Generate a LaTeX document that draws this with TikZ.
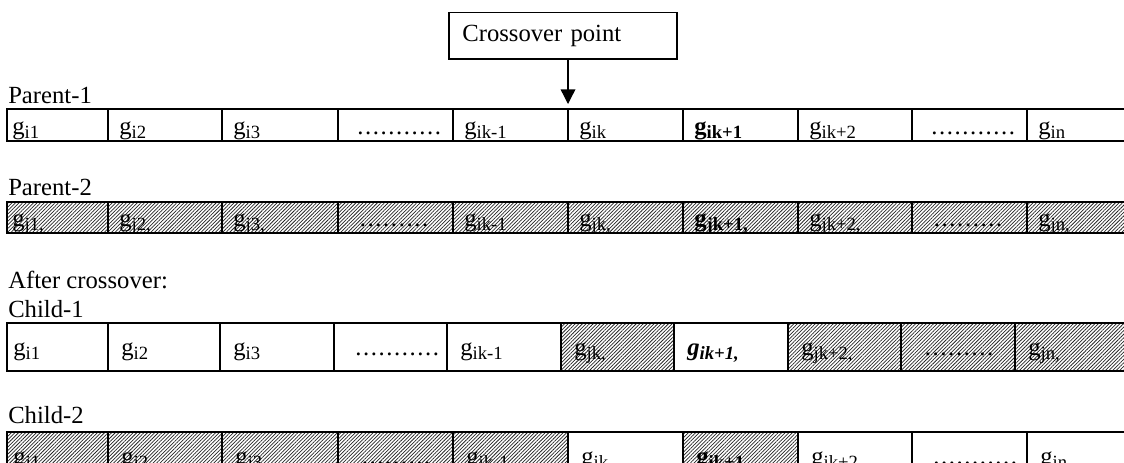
\documentclass[tikz,border=0pt]{standalone}
\usepackage{fontspec}
\setmainfont{Liberation Serif}
\usetikzlibrary{arrows.meta, patterns.meta}

\newcommand{\gs}[1]{g\raisebox{-3pt}{\fontsize{14}{14}\selectfont #1}}
\newcommand{\dt}{.\kern1.2pt}
\newcommand{\gdots}{\kern6pt\dt\dt\dt\dt\dt\dt\dt\dt\dt\dt\dt}
\newcommand{\sdots}{\kern8pt\dt\dt\dt\dt\dt\dt\dt\dt\dt}

\tikzset{
  rowname/.style={anchor=base west, inner sep=0pt, font=\fontsize{18.5}{22}\selectfont},
  gene/.style={anchor=base west, inner sep=0pt, font=\fontsize{18.5}{22}\selectfont},
  plain/.style={draw, line width=1.5pt},
  hatched/.style={draw, line width=1.5pt, pattern={Lines[angle=45, distance=1.9pt, line width=0.55pt]}, pattern color=black!85},
}

\begin{document}
\begin{tikzpicture}[x=0.75pt, y=-0.75pt]
\useasboundingbox (0,0) rectangle (1124,462);
\clip (0,0) rectangle (1124,462);

% crossover point
\node[draw, line width=1pt, minimum width=171pt, minimum height=35pt, text width=151pt, inner xsep=10pt, align=left,
  font=\fontsize{18.5}{22}\selectfont] (cp) at (563,35.5) {Crossover point};
\coordinate (cut) at (568,104);
\draw[line width=1pt, -{Triangle[length=11pt, width=11pt]}] (cp.south -| cut) -- (cut);

% row names
\node[rowname] (p1) at (8,103) {Parent-1};
\node[rowname] (p2) at (8,195) {Parent-2};
\node[rowname] (after) at (8,288) {After crossover:};
\node[rowname] (c1) at (8,317) {Child-1};
\node[rowname] (c2) at (8,423) {Child-2};

% Parent-1
\foreach \xl/\xr/\sh/\txt [count=\i] in {7/108/plain/{\gs{i1}}, 108/222/plain/{\gs{i2}}, 222/338/plain/{\gs{i3}},
    338/453/plain/{\gdots}, 453/568/plain/{\gs{ik-1}}, 568/683/plain/{\gs{ik}}, 683/798/plain/{\textbf{\gs{ik+1}}},
    798/912/plain/{\gs{ik+2}}, 912/1027/plain/{\gdots}, 1027/1134/plain/{\gs{in}}}
  {\path[\sh] (\xl,109) rectangle (\xr,141);
   \pgfmathsetmacro\tx{\i==1 ? \xl+5 : \xl+11}
   \node[gene] (pa-\i) at (\tx,134) {\txt};}

% Parent-2
\foreach \xl/\xr/\sh/\txt [count=\i] in {7/108/hatched/{\gs{j1,}}, 108/222/hatched/{\gs{j2,}}, 222/338/hatched/{\gs{j3,}},
    338/453/hatched/{\sdots}, 453/568/hatched/{\gs{ik-1}}, 568/683/hatched/{\gs{jk,}}, 683/798/hatched/{\textbf{\gs{jk+1,}}},
    798/912/hatched/{\gs{jk+2,}}, 912/1027/hatched/{\sdots}, 1027/1134/hatched/{\gs{jn,}}}
  {\path[\sh] (\xl,202) rectangle (\xr,233);
   \pgfmathsetmacro\tx{\i==1 ? \xl+5 : \xl+11}
   \node[gene] (pb-\i) at (\tx,226) {\txt};}

% Child-1
\foreach \xl/\xr/\sh/\txt [count=\i] in {7/108/plain/{\gs{i1}}, 108/220/plain/{\gs{i2}}, 220/334/plain/{\gs{i3}},
    334/447/plain/{\gdots}, 447/561/plain/{\gs{ik-1}}, 561/674/hatched/{\gs{jk,}}, 674/788/plain/{\textbf{\textit{\gs{ik+1,}}}},
    788/901/hatched/{\gs{jk+2,}}, 901/1015/hatched/{\sdots}, 1015/1134/hatched/{\gs{jn,}}}
  {\path[\sh] (\xl,323) rectangle (\xr,371);
   \pgfmathsetmacro\tx{\i==1 ? \xl+6 : \xl+13}
   \node[gene] (ca-\i) at (\tx,355) {\txt};}

% Child-2
\foreach \xl/\xr/\sh/\txt [count=\i] in {7/108/hatched/{\gs{j1,}}, 108/222/hatched/{\gs{j2,}}, 222/338/hatched/{\gs{j3,}},
    338/453/hatched/{\sdots}, 453/568/hatched/{\gs{ik-1}}, 568/683/plain/{\gs{ik}}, 683/798/hatched/{\textbf{\gs{ik+1}}},
    798/912/plain/{\gs{ik+2}}, 912/1027/plain/{\gdots}, 1027/1134/plain/{\gs{in}}}
  {\path[\sh] (\xl,432) rectangle (\xr,480);
   \pgfmathsetmacro\tx{\i==1 ? \xl+6 : \xl+13}
   \node[gene] (cb-\i) at (\tx,464) {\txt};}

\end{tikzpicture}
\end{document}
